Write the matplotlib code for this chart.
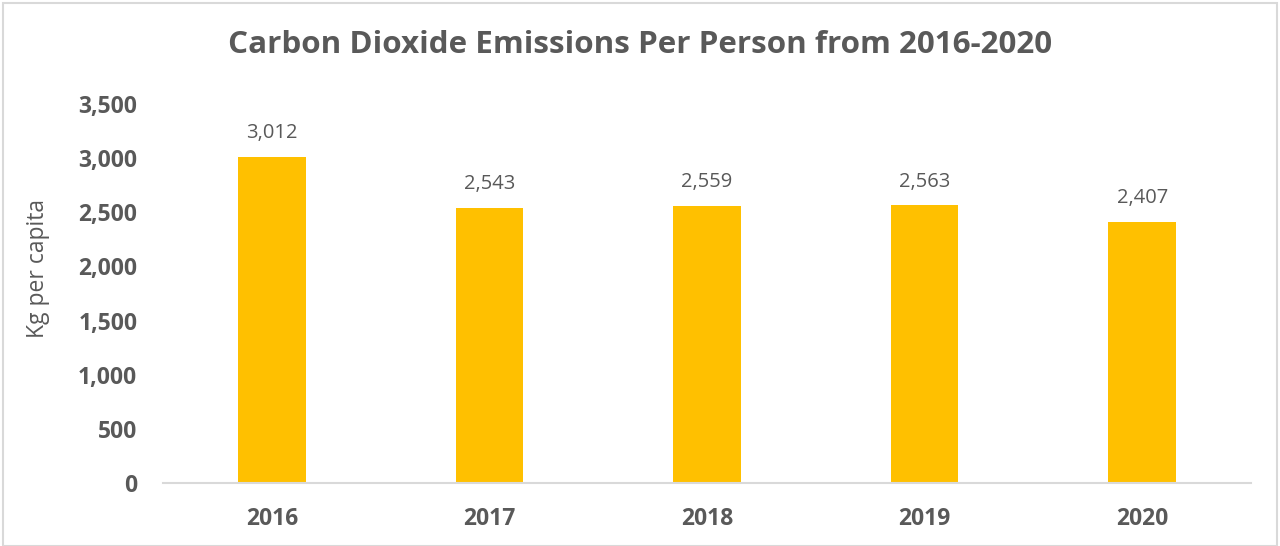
import matplotlib.pyplot as plt
from matplotlib.patches import Rectangle
from matplotlib.ticker import FuncFormatter

years = ["2016", "2017", "2018", "2019", "2020"]
emissions = [3012, 2543, 2559, 2563, 2407]

plt.rcParams['font.family'] = ['Open Sans', 'DejaVu Sans']
text_color = "#595959"

fig = plt.figure(figsize=(12.8, 5.46), dpi=100)
ax = fig.add_axes([163 / 1280, 1 - 483 / 546, 1088 / 1280, (483 - 104) / 546])

bars = ax.bar(years, emissions, width=0.31, color="#FFC000")
ax.set_xlim(-0.5, 4.5)
ax.set_ylim(0, 3500)
ax.set_yticks(range(0, 3501, 500))
ax.yaxis.set_major_formatter(FuncFormatter(lambda v, p: f"{int(v):,}"))

for b, v in zip(bars, emissions):
    ax.annotate(f"{v:,}", (b.get_x() + b.get_width() / 2, v), xytext=(0, 10),
                textcoords="offset points", ha="center", va="bottom",
                fontsize=14.5, color=text_color)

for s in ["top", "right", "left"]:
    ax.spines[s].set_visible(False)
ax.spines["bottom"].set_color("#D9D9D9")
ax.spines["bottom"].set_linewidth(1.5)
ax.tick_params(axis="both", length=0, colors=text_color, labelsize=16.5)
ax.tick_params(axis="x", pad=17)
ax.tick_params(axis="y", pad=18.5)
for lbl in ax.get_xticklabels() + ax.get_yticklabels():
    lbl.set_fontweight("bold")

# y label sits a bit above the axis middle in the original
fig.text(38 / 1280, 1 - 268 / 546, "Kg per capita", rotation=90, ha="center",
         va="center", fontsize=16.5, color=text_color)
fig.text(0.5, 1 - 45 / 546, "Carbon Dioxide Emissions Per Person from 2016-2020",
         ha="center", va="center", fontsize=22.6, fontweight="bold", color=text_color)

fig.patches.append(Rectangle((3 / 1280, 0), 1 - 6 / 1280, 1 - 3 / 546,
                             transform=fig.transFigure, fill=False,
                             edgecolor="#D9D9D9", linewidth=1.5))

fig.savefig("out.png", dpi=100)
